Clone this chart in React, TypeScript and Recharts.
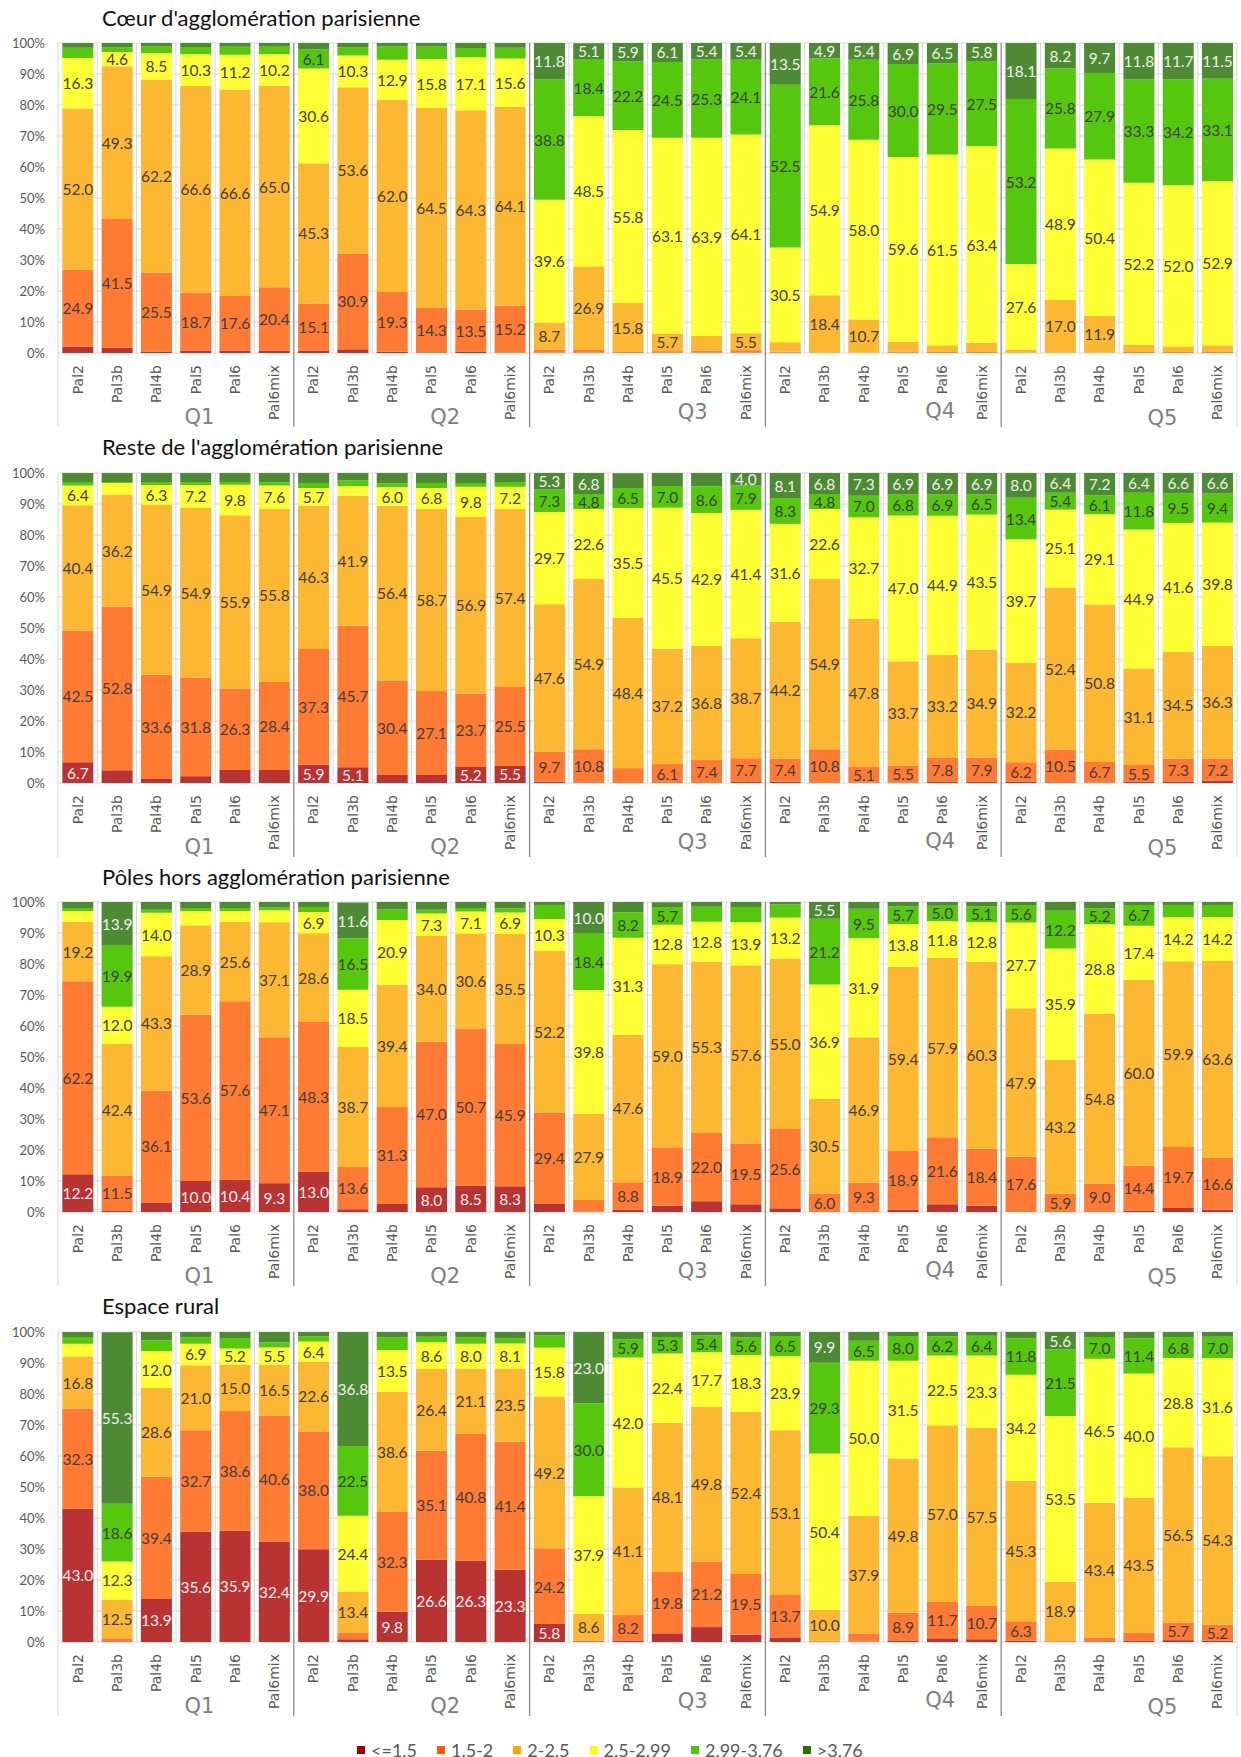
import React from 'react';
import { BarChart, Bar, XAxis, YAxis, CartesianGrid, LabelList } from 'recharts';

const QUINTILES = ['Q1', 'Q2', 'Q3', 'Q4', 'Q5'];
const PALETTES = ['Pal2', 'Pal3b', 'Pal4b', 'Pal5', 'Pal6', 'Pal6mix'];
const CLASSES = ['<=1.5', '1.5-2', '2-2.5', '2.5-2.99', '2.99-3.76', '>3.76'];
const TITLES = [
  "Cœur d'agglomération parisienne",
  "Reste de l'agglomération parisienne",
  'Pôles hors agglomération parisienne',
  'Espace rural',
];

// values in %, order Q1 Pal2..Pal6mix, Q2 ..., Q5
const COEUR_LE_1_5 = [2.0, 1.7, 0.5, 0.8, 0.8, 0.8, 0.8, 1.2, 0.4, 0.2, 0.5, 0.1, 0.1, 0.1, 0, 0.1, 0.1, 0.1, 0.1, 0, 0, 0.1, 0, 0, 0, 0, 0, 0, 0, 0];
const COEUR_1_5_2 = [24.9, 41.5, 25.5, 18.7, 17.6, 20.4, 15.1, 30.9, 19.3, 14.3, 13.5, 15.2, 1.0, 0.9, 0.3, 0.5, 0.6, 0.8, 0.3, 0.2, 0.1, 0.4, 0.3, 0.3, 0.2, 0.1, 0.1, 0.3, 0.3, 0.3];
const COEUR_2_2_5 = [52.0, 49.3, 62.2, 66.6, 66.6, 65.0, 45.3, 53.6, 62.0, 64.5, 64.3, 64.1, 8.7, 26.9, 15.8, 5.7, 4.8, 5.5, 3.1, 18.4, 10.7, 3.1, 2.2, 3.0, 0.9, 17.0, 11.9, 2.4, 1.8, 2.2];
const COEUR_2_5_2_99 = [16.3, 4.6, 8.5, 10.3, 11.2, 10.2, 30.6, 10.3, 12.9, 15.8, 17.1, 15.6, 39.6, 48.5, 55.8, 63.1, 63.9, 64.1, 30.5, 54.9, 58.0, 59.6, 61.5, 63.4, 27.6, 48.9, 50.4, 52.2, 52.0, 52.9];
const COEUR_2_99_3_76 = [3.3, 1.5, 2.2, 2.3, 2.6, 2.4, 6.1, 2.6, 4.3, 4.1, 3.0, 3.5, 38.8, 18.4, 22.2, 24.5, 25.3, 24.1, 52.5, 21.6, 25.8, 30.0, 29.5, 27.5, 53.2, 25.8, 27.9, 33.3, 34.2, 33.1];
const COEUR_GT_3_76 = [1.5, 1.4, 1.1, 1.3, 1.2, 1.2, 2.1, 1.4, 1.1, 1.1, 1.6, 1.5, 11.8, 5.1, 5.9, 6.1, 5.4, 5.4, 13.5, 4.9, 5.4, 6.9, 6.5, 5.8, 18.1, 8.2, 9.7, 11.8, 11.7, 11.5];

const RESTE_LE_1_5 = [6.7, 4.1, 1.3, 2.2, 4.2, 4.2, 5.9, 5.1, 2.6, 2.6, 5.2, 5.5, 0.4, 0.1, 0, 0, 0, 0.3, 0.4, 0.1, 0.1, 0.1, 0.3, 0.3, 0.5, 0.2, 0.1, 0.3, 0.5, 0.7];
const RESTE_1_5_2 = [42.5, 52.8, 33.6, 31.8, 26.3, 28.4, 37.3, 45.7, 30.4, 27.1, 23.7, 25.5, 9.7, 10.8, 4.8, 6.1, 7.4, 7.7, 7.4, 10.8, 5.1, 5.5, 7.8, 7.9, 6.2, 10.5, 6.7, 5.5, 7.3, 7.2];
const RESTE_2_2_5 = [40.4, 36.2, 54.9, 54.9, 55.9, 55.8, 46.3, 41.9, 56.4, 58.7, 56.9, 57.4, 47.6, 54.9, 48.4, 37.2, 36.8, 38.7, 44.2, 54.9, 47.8, 33.7, 33.2, 34.9, 32.2, 52.4, 50.8, 31.1, 34.5, 36.3];
const RESTE_2_5_2_99 = [6.4, 3.7, 6.3, 7.2, 9.8, 7.6, 5.7, 3.0, 6.0, 6.8, 9.8, 7.2, 29.7, 22.6, 35.5, 45.5, 42.9, 41.4, 31.6, 22.6, 32.7, 47.0, 44.9, 43.5, 39.7, 25.1, 29.1, 44.9, 41.6, 39.8];
const RESTE_2_99_3_76 = [1.1, 0.3, 1.0, 1.0, 0.9, 1.0, 1.6, 1.9, 1.3, 1.6, 1.2, 1.5, 7.3, 4.8, 6.5, 7.0, 8.6, 7.9, 8.3, 4.8, 7.0, 6.8, 6.9, 6.5, 13.4, 5.4, 6.1, 11.8, 9.5, 9.4];
const RESTE_GT_3_76 = [2.9, 2.9, 2.9, 2.9, 2.9, 3.0, 3.2, 2.4, 3.3, 3.2, 3.2, 2.9, 5.3, 6.8, 4.7, 4.2, 4.3, 4.0, 8.1, 6.8, 7.3, 6.9, 6.9, 6.9, 8.0, 6.4, 7.2, 6.4, 6.6, 6.6];

const POLES_LE_1_5 = [12.2, 0.3, 3.1, 10.0, 10.4, 9.3, 13.0, 0.9, 2.6, 8.0, 8.5, 8.3, 2.6, 0.1, 0.8, 2.0, 3.5, 2.5, 1.2, 0, 0.2, 0.8, 2.5, 2.0, 0.2, 0, 0.2, 0.5, 1.3, 0.8];
const POLES_1_5_2 = [62.2, 11.5, 36.1, 53.6, 57.6, 47.1, 48.3, 13.6, 31.3, 47.0, 50.7, 45.9, 29.4, 3.8, 8.8, 18.9, 22.0, 19.5, 25.6, 6.0, 9.3, 18.9, 21.6, 18.4, 17.6, 5.9, 9.0, 14.4, 19.7, 16.6];
const POLES_2_2_5 = [19.2, 42.4, 43.3, 28.9, 25.6, 37.1, 28.6, 38.7, 39.4, 34.0, 30.6, 35.5, 52.2, 27.9, 47.6, 59.0, 55.3, 57.6, 55.0, 30.5, 46.9, 59.4, 57.9, 60.3, 47.9, 43.2, 54.8, 60.0, 59.9, 63.6];
const POLES_2_5_2_99 = [3.5, 12.0, 14.0, 4.6, 3.5, 3.8, 6.9, 18.5, 20.9, 7.3, 7.1, 6.9, 10.3, 39.8, 31.3, 12.8, 12.8, 13.9, 13.2, 36.9, 31.9, 13.8, 11.8, 12.8, 27.7, 35.9, 28.8, 17.4, 14.2, 14.2];
const POLES_2_99_3_76 = [1.0, 19.9, 1.0, 1.0, 1.0, 0.9, 1.6, 16.5, 3.4, 1.2, 1.2, 1.3, 4.5, 18.4, 8.2, 5.7, 4.9, 4.9, 4.2, 21.2, 9.5, 5.7, 5.0, 5.1, 5.6, 12.2, 5.2, 6.7, 3.9, 3.8];
const POLES_GT_3_76 = [1.9, 13.9, 2.5, 1.9, 1.9, 1.8, 1.6, 11.6, 2.4, 2.5, 1.9, 2.1, 1.0, 10.0, 3.3, 1.5, 1.5, 1.6, 0.8, 5.5, 2.2, 1.4, 1.2, 1.4, 1.0, 2.8, 2.0, 1.0, 1.0, 1.0];

const RURAL_LE_1_5 = [43.0, 0.2, 13.9, 35.6, 35.9, 32.4, 29.9, 0.9, 9.8, 26.6, 26.3, 23.3, 5.8, 0.2, 0.5, 2.8, 4.8, 2.4, 1.5, 0.1, 0.1, 0.5, 1.2, 0.9, 0.4, 0.1, 0.2, 0.3, 0.6, 0.4];
const RURAL_1_5_2 = [32.3, 1.0, 39.4, 32.7, 38.6, 40.6, 38.0, 2.0, 32.3, 35.1, 40.8, 41.4, 24.2, 0.3, 8.2, 19.8, 21.2, 19.5, 13.7, 0.3, 2.7, 8.9, 11.7, 10.7, 6.3, 0.4, 1.3, 2.8, 5.7, 5.2];
const RURAL_2_2_5 = [16.8, 12.5, 28.6, 21.0, 15.0, 16.5, 22.6, 13.4, 38.6, 26.4, 21.1, 23.5, 49.2, 8.6, 41.1, 48.1, 49.8, 52.4, 53.1, 10.0, 37.9, 49.8, 57.0, 57.5, 45.3, 18.9, 43.4, 43.5, 56.5, 54.3];
const RURAL_2_5_2_99 = [4.1, 12.3, 12.0, 6.9, 5.2, 5.5, 6.4, 24.4, 13.5, 8.6, 8.0, 8.1, 15.8, 37.9, 42.0, 22.4, 17.7, 18.3, 23.9, 50.4, 50.0, 31.5, 22.5, 23.3, 34.2, 53.5, 46.5, 40.0, 28.8, 31.6];
const RURAL_2_99_3_76 = [2.2, 18.6, 3.4, 2.1, 3.4, 1.6, 1.7, 22.5, 4.1, 1.8, 2.1, 1.7, 3.9, 30.0, 5.9, 5.3, 5.4, 5.6, 6.5, 29.3, 6.5, 8.0, 6.2, 6.4, 11.8, 21.5, 7.0, 11.4, 6.8, 7.0];
const RURAL_GT_3_76 = [1.6, 55.3, 2.7, 1.7, 1.9, 3.4, 1.4, 36.8, 1.7, 1.5, 1.7, 2.0, 1.1, 23.0, 2.3, 1.6, 1.1, 1.8, 1.3, 9.9, 2.8, 1.3, 1.4, 1.2, 2.0, 5.6, 1.6, 2.0, 1.6, 1.5];

// small segments that still carry a label in the original (panel-series-index)
const SMALL_LABELS = ['0-3-1', '0-5-19', '1-4-13', '1-4-19', '1-5-17'];

const PANEL_SERIES = [
  [COEUR_LE_1_5, COEUR_1_5_2, COEUR_2_2_5, COEUR_2_5_2_99, COEUR_2_99_3_76, COEUR_GT_3_76],
  [RESTE_LE_1_5, RESTE_1_5_2, RESTE_2_2_5, RESTE_2_5_2_99, RESTE_2_99_3_76, RESTE_GT_3_76],
  [POLES_LE_1_5, POLES_1_5_2, POLES_2_2_5, POLES_2_5_2_99, POLES_2_99_3_76, POLES_GT_3_76],
  [RURAL_LE_1_5, RURAL_1_5_2, RURAL_2_2_5, RURAL_2_5_2_99, RURAL_2_99_3_76, RURAL_GT_3_76],
];

const BAR_COLORS = ['#BA3333', '#FF7A33', '#FDB833', '#FFFF33', '#55C70D', '#4E8A33'];
const LEGEND_COLORS = ['#A50000', '#FF5B00', '#FFA500', '#FFFF00', '#4CC800', '#267300'];

const W = 1241;
const PANEL_H = 429.5;
const TOP = 43;
const PLOT_H = 310;
const LEFT = 58;
const RIGHT = 4;
const AXIS_H = PANEL_H - TOP - PLOT_H;
const BAND = (W - LEFT - RIGHT) / 30;
// where the Q labels sit inside their group (fraction of bar index) and how far below the axis
const Q_POS = [3.1, 3.35, 3.65, 3.95, 3.6];
const Q_DY = [64, 64, 59, 58, 65];

const CatTick = (props: any) => {
  const { x, y, payload } = props;
  const i: number = payload?.index ?? props.index ?? 0;
  const half: number = payload?.offset || BAND / 2;
  const g = Math.floor(i / 6);
  const left = x - half;
  let boundary;
  if (i % 6 === 0 && i > 0) {
    boundary = <line x1={left} x2={left} y1={y - PLOT_H} y2={y + 74} stroke="#8c8c8c" strokeWidth={1.3} />;
  } else if (i === 0) {
    boundary = <line x1={left} x2={left} y1={y - PLOT_H} y2={y + 74} stroke="#d9d9d9" />;
  } else {
    boundary = <line x1={left} x2={left} y1={y - PLOT_H} y2={y} stroke="#d9d9d9" />;
  }
  return (
    <g>
      {boundary}
      {i === 29 && <line x1={x + half} x2={x + half} y1={y - PLOT_H} y2={y + 74} stroke="#d9d9d9" />}
      <text
        transform={`translate(${x},${y + 12}) rotate(-90)`}
        textAnchor="end"
        dominantBaseline="central"
        fontFamily="DejaVu Sans"
        fontSize={14}
        fill="#595959"
      >
        {PALETTES[i % 6]}
      </text>
      {i % 6 === 3 && (
        <text
          x={x + (Q_POS[g] - 3) * 2 * half}
          y={y + Q_DY[g]}
          textAnchor="middle"
          dominantBaseline="central"
          fontFamily="DejaVu Sans"
          fontSize={21}
          fill="#7f7f7f"
        >
          {QUINTILES[g]}
        </text>
      )}
    </g>
  );
};

const makeLabel = (p: number, k: number) => (props: any) => {
  const vb = props.viewBox && props.viewBox.width != null ? props.viewBox : props;
  const { x, y, width, height } = vb;
  const v = Number(props.value);
  if (!(v >= 5 || SMALL_LABELS.includes(`${p}-${k}-${props.index}`))) return null;
  return (
    <text
      x={x + width / 2}
      y={y + height / 2}
      textAnchor="middle"
      dominantBaseline="central"
      fontFamily="Lato"
      fontSize={15.5}
      fill={k === 0 || k === 5 ? '#eeeeee' : '#404040'}
    >
      {v.toFixed(1)}
    </text>
  );
};

const Panel = ({ p }: { p: number }) => {
  const series = PANEL_SERIES[p];
  const data = QUINTILES.flatMap((q, qi) =>
    PALETTES.map((pal, pi) => {
      const idx = qi * 6 + pi;
      const row: Record<string, any> = { key: `${q}-${pal}`, q, pal };
      series.forEach((s, k) => {
        row['s' + k] = s[idx];
      });
      return row;
    })
  );

  return (
    <div style={{ position: 'relative', width: W, height: PANEL_H }}>
      <div
        style={{
          position: 'absolute',
          left: 102,
          top: TOP - 25.5 - 13,
          lineHeight: '26px',
          fontFamily: 'Lato',
          fontSize: 22,
          color: '#111',
          whiteSpace: 'nowrap',
        }}
      >
        {TITLES[p]}
      </div>
      <BarChart
        width={W}
        height={PANEL_H}
        data={data}
        margin={{ top: TOP, right: RIGHT, bottom: 0, left: 0 }}
        barCategoryGap="11%"
      >
        <CartesianGrid vertical={false} stroke="#d9d9d9" />
        <XAxis
          dataKey="key"
          interval={0}
          height={AXIS_H}
          tickSize={0}
          tickMargin={0}
          axisLine={false}
          tickLine={false}
          tick={(props: any) => <CatTick {...props} />}
        />
        <YAxis
          domain={[0, 100]}
          ticks={[0, 10, 20, 30, 40, 50, 60, 70, 80, 90, 100]}
          tickFormatter={(v: number) => `${v}%`}
          width={LEFT}
          axisLine={false}
          tickLine={false}
          tickSize={0}
          tickMargin={13}
          allowDataOverflow
          tick={{ fontFamily: 'Lato', fontSize: 13, fill: '#595959' }}
        />
        {CLASSES.map((c, k) => (
          <Bar key={c} dataKey={'s' + k} name={c} stackId="a" fill={BAR_COLORS[k]} isAnimationActive={false}>
            <LabelList dataKey={'s' + k} content={makeLabel(p, k)} />
          </Bar>
        ))}
      </BarChart>
    </div>
  );
};

const App = () => {
  return (
    <div
      style={{
        position: 'absolute',
        left: 0,
        top: 0,
        width: W,
        height: 1757,
        background: '#fff',
        overflow: 'hidden',
      }}
    >
      {TITLES.map((t, p) => (
        <Panel key={t} p={p} />
      ))}
      <div
        style={{
          position: 'absolute',
          left: 357,
          top: 1739,
          display: 'flex',
          alignItems: 'center',
          fontFamily: 'Lato',
          fontSize: 18,
          lineHeight: '22px',
          color: '#595959',
        }}
      >
        {CLASSES.map((c, k) => (
          <div key={c} style={{ display: 'flex', alignItems: 'center', marginRight: 20 }}>
            <span style={{ width: 8, height: 8, background: LEGEND_COLORS[k], marginRight: 6, display: 'inline-block' }} />
            <span>{c}</span>
          </div>
        ))}
      </div>
    </div>
  );
};

export default App;
